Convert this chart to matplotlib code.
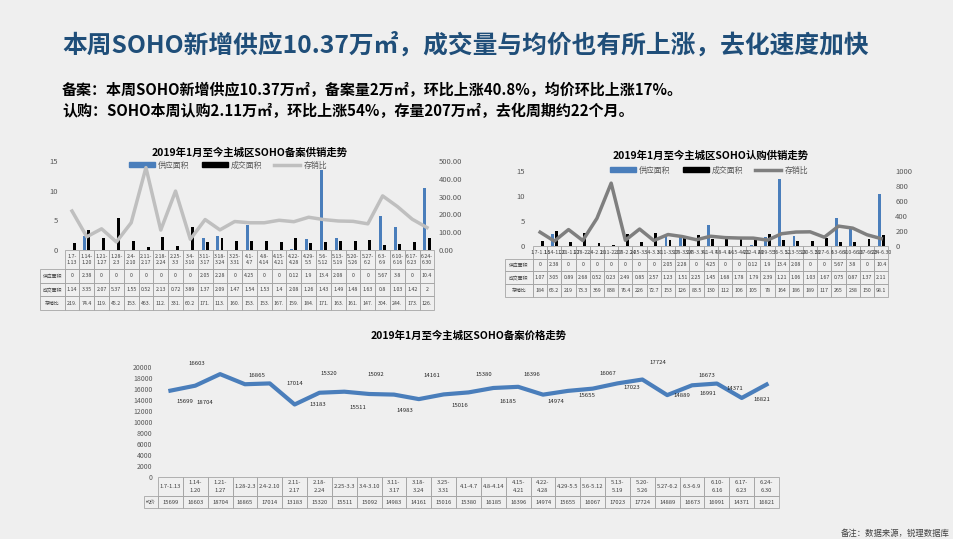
import numpy as np
import matplotlib.pyplot as plt
from matplotlib.patches import Patch
from matplotlib.lines import Line2D

plt.rcParams['font.family'] = ['Noto Sans CJK SC', 'DejaVu Sans']

W, H = 954, 539

# 周次
weeks = ["1.7-1.13", "1.14-1.20", "1.21-1.27", "1.28-2.3", "2.4-2.10", "2.11-2.17",
         "2.18-2.24", "2.25-3.3", "3.4-3.10", "3.11-3.17", "3.18-3.24", "3.25-3.31",
         "4.1-4.7", "4.8-4.14", "4.15-4.21", "4.22-4.28", "4.29-5.5", "5.6-5.12",
         "5.13-5.19", "5.20-5.26", "5.27-6.2", "6.3-6.9", "6.10-6.16", "6.17-6.23",
         "6.24-6.30"]

# 备案供销
supply_ba = [0, 2.38, 0, 0, 0, 0, 0, 0, 0, 2.05, 2.28, 0, 4.25, 0, 0, 0.12, 1.9,
             13.4, 2.08, 0, 0, 5.67, 3.8, 0, 10.4]
deal_ba = [1.14, 3.35, 2.07, 5.37, 1.55, 0.52, 2.13, 0.72, 3.89, 1.37, 2.09, 1.47,
           1.54, 1.53, 1.4, 2.08, 1.26, 1.43, 1.49, 1.48, 1.63, 0.8, 1.03, 1.42, 2]
ratio_ba = [219, 74.4, 119, 45.2, 153, 463, 112, 331, 60.2, 171, 113, 160, 153, 153,
            167, 159, 184, 171, 163, 161, 147, 304, 244, 173, 126]

# 认购供销
supply_rg = [0, 2.38, 0, 0, 0, 0, 0, 0, 0, 2.05, 2.28, 0, 4.25, 0, 0, 0.12, 1.9,
             13.4, 2.08, 0, 0, 5.67, 3.8, 0, 10.4]
deal_rg = [1.07, 3.05, 0.89, 2.68, 0.52, 0.23, 2.49, 0.85, 2.57, 1.23, 1.51, 2.25,
           1.45, 1.68, 1.78, 1.79, 2.39, 1.21, 1.06, 1.03, 1.67, 0.75, 0.87, 1.37, 2.11]
ratio_rg = [184, 65.2, 219, 73.3, 369, 838, 76.4, 226, 72.7, 153, 126, 83.5, 130, 112,
            106, 105, 78, 164, 186, 189, 117, 265, 238, 150, 98.1]

# 备案均价
price = [15699, 16603, 18704, 16865, 17014, 13183, 15320, 15511, 15092, 14983, 14161,
         15016, 15380, 16185, 16396, 14974, 15655, 16067, 17023, 17724, 14889, 16673,
         16991, 14371, 16821]

row_names = ['供应面积', '成交面积', '存销比']

# 数据标签偏移(像素)
lab_dx = [15, 2, -15, 12, 25, 23, 9, 14, 7, 11, 13, 16, 15, 15, 14, 13, 19, 15, 14, 16,
          15, 15, -9, -7, -5]
lab_dy = [-11, 22, -28, 9, 0, 0, 19, -16, 19, -16, 24, -11, 18, -14, 12, -7, -5, 15,
          -4, 17, 0, 10, -10, 9, -15]

BLUE = '#4a7ebb'
BG = '#efefef'
TXT = '#595959'
GRID = '#a6a6a6'

fig = plt.figure(figsize=(W / 100, H / 100), dpi=100, facecolor=BG)


def add_ax(x0, y0, x1, y1):
    ax = fig.add_axes([x0 / W, 1 - y1 / H, (x1 - x0) / W, (y1 - y0) / H])
    ax.set_facecolor('none')
    for s in ax.spines.values():
        s.set_visible(False)
    return ax


def draw_table(ax, rect, lab_x0, header, labels, rows, head_h, row_h, fs, lab_fs):
    x0, y0, x1, y1 = rect
    aw, ah = x1 - x0, y1 - y0
    n = len(header)
    total = head_h + row_h * len(rows)
    cells = [[''] + header] + [[lab] + r for lab, r in zip(labels, rows)]
    tb = ax.table(cellText=cells, cellLoc='center',
                  colWidths=[(x0 - lab_x0) / aw] + [1 / n] * n,
                  bbox=[(lab_x0 - x0) / aw, -total / ah, (x1 - lab_x0) / aw, total / ah])
    tb.auto_set_font_size(False)
    for (r, c), cell in tb.get_celld().items():
        cell.set_height(head_h if r == 0 else row_h)
        cell.set_edgecolor(GRID)
        cell.set_linewidth(0.6)
        cell.set_facecolor('none')
        t = cell.get_text()
        t.set_fontsize(lab_fs if c == 0 else fs)
        t.set_color('#404040')
        t.set_linespacing(1.5)
    tb[0, 0].visible_edges = ''
    return tb


def fmt_ratio(v):
    return f"{int(v)}." if v >= 100 else f"{v:g}"


x = np.arange(len(weeks))

# ---- 标题
fig.text(62 / W, 1 - 45 / H, '本周SOHO新增供应10.37万㎡，成交量与均价也有所上涨，去化速度加快',
         fontsize=17.8, fontweight='bold', color='#1f4e79', va='center')
fig.text(62 / W, 1 - 90 / H, '备案：本周SOHO新增供应10.37万㎡，备案量2万㎡，环比上涨40.8%，均价环比上涨17%。',
         fontsize=10.8, fontweight='bold', color='black', va='center')
fig.text(62 / W, 1 - 111 / H, '认购：SOHO本周认购2.11万㎡，环比上涨54%，存量207万㎡，去化周期约22个月。',
         fontsize=10.8, fontweight='bold', color='black', va='center')

# ---- 备案供销走势
r1 = (64.6, 161, 434.4, 250)
ax1 = add_ax(*r1)
ax1.bar(x - 0.14, supply_ba, 0.2, color=BLUE)
ax1.bar(x + 0.14, deal_ba, 0.2, color='black')
ax1.set_xlim(-0.5, len(weeks) - 0.5)
ax1.set_ylim(0, 15)
ax1.set_yticks([0, 5, 10, 15])
ax1.set_xticks([])
ax1.tick_params(length=0, labelsize=5.5, labelcolor=TXT, pad=5)
ax1b = ax1.twinx()
ax1b.set_facecolor('none')
for s in ax1b.spines.values():
    s.set_visible(False)
ax1b.plot(x, ratio_ba, color='#bfbfbf', lw=2.5)
ax1b.set_ylim(0, 500)
ax1b.set_yticks(range(0, 501, 100))
ax1b.set_yticklabels([f"{v:.2f}" for v in range(0, 501, 100)])
ax1b.tick_params(length=0, labelsize=5.5, labelcolor=TXT, pad=3)
draw_table(ax1, r1, 40, [w.replace('-', '-\n') for w in weeks], row_names,
           [[f"{v:g}" for v in supply_ba], [f"{v:g}" for v in deal_ba],
            [fmt_ratio(v) for v in ratio_ba]],
           19, 13.7, 3.8, 3.5)
ax1.set_title('2019年1月至今主城区SOHO备案供销走势', fontsize=7.5, fontweight='bold',
              color='black', pad=4)
ax1.legend(handles=[Patch(color=BLUE, label='供应面积'), Patch(color='black', label='成交面积'),
                    Line2D([], [], color='#bfbfbf', lw=2.5, label='存销比')],
           loc='center', bbox_to_anchor=((228 - r1[0]) / (r1[2] - r1[0]), (250 - 165) / 89),
           ncol=3, frameon=False, fontsize=5.7, labelcolor=TXT, handlelength=3.3,
           handleheight=0.5, columnspacing=1.5, handletextpad=0.4)

# ---- 认购供销走势
r2 = (533, 171, 888.3, 246)
ax2 = add_ax(*r2)
ax2.bar(x - 0.14, supply_rg, 0.2, color=BLUE)
ax2.bar(x + 0.14, deal_rg, 0.2, color='black')
ax2.set_xlim(-0.5, len(weeks) - 0.5)
ax2.set_ylim(0, 15)
ax2.set_yticks([0, 5, 10, 15])
ax2.set_xticks([])
ax2.tick_params(length=0, labelsize=5.5, labelcolor=TXT, pad=6)
ax2b = ax2.twinx()
ax2b.set_facecolor('none')
for s in ax2b.spines.values():
    s.set_visible(False)
ax2b.plot(x, ratio_rg, color='#7f7f7f', lw=2.5)
ax2b.set_ylim(0, 1000)
ax2b.set_yticks(range(0, 1001, 200))
ax2b.tick_params(length=0, labelsize=5.5, labelcolor=TXT, pad=5)
draw_table(ax2, r2, 505, weeks, row_names,
           [[f"{v:g}" for v in supply_rg], [f"{v:g}" for v in deal_rg],
            [f"{v:g}" for v in ratio_rg]],
           12.5, 12.8, 3.8, 3.5)
ax2.set_title('2019年1月至今主城区SOHO认购供销走势', fontsize=7.5, fontweight='bold',
              color='black', pad=9)
ax2.legend(handles=[Patch(color=BLUE, label='供应面积'), Patch(color='black', label='成交面积'),
                    Line2D([], [], color='#7f7f7f', lw=2.5, label='存销比')],
           loc='center', bbox_to_anchor=((709 - r2[0]) / (r2[2] - r2[0]), (246 - 170) / 75),
           ncol=3, frameon=False, fontsize=5.7, labelcolor=TXT, handlelength=3.3,
           handleheight=0.5, columnspacing=1.5, handletextpad=0.4)

# ---- 备案价格走势
r3 = (158, 367, 779, 477)
ax3 = add_ax(*r3)
ax3.plot(x, price, color=BLUE, lw=3)
ax3.set_xlim(-0.5, len(weeks) - 0.5)
ax3.set_ylim(0, 20000)
ax3.set_yticks(range(0, 20001, 2000))
ax3.set_xticks([])
ax3.tick_params(length=0, labelsize=5, labelcolor=TXT, pad=4)
for i, v in enumerate(price):
    ax3.annotate(str(v), (i, v), xytext=(lab_dx[i], lab_dy[i]), textcoords='offset pixels',
                 ha='center', va='center', fontsize=4.3, color='#262626')
head3 = [w.replace('-', '-\n') if len(w) > 8 else w for w in weeks]
draw_table(ax3, r3, 144, head3, ['均价'], [[str(v) for v in price]], 19, 12, 4.2, 3.5)
ax3.set_title('2019年1月至今主城区SOHO备案价格走势', fontsize=7.5, fontweight='bold',
              color='black', pad=20)

fig.text(950 / W, 1 - 533 / H, '备注：数据来源，锐理数据库', fontsize=6, color='#404040',
         ha='right', va='center')

fig.savefig('out.png', dpi=100, facecolor=BG)
